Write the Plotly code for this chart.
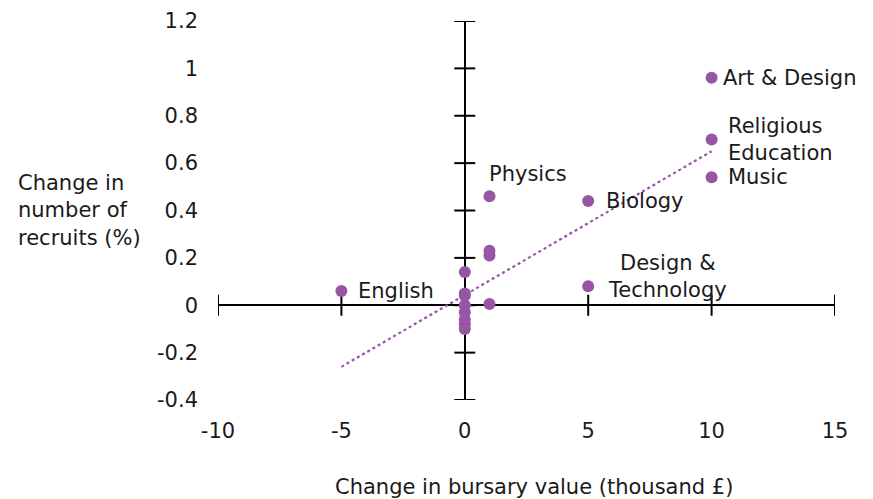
import plotly.graph_objects as go

# Data
bursary_change = [-5, 1, 1, 1, 1, 5, 5, 10, 10, 10, 0, 0, 0, 0, 0, 0, 0, 0]
recruit_change = [0.06, 0.46, 0.23, 0.21, 0.005, 0.44, 0.08, 0.96, 0.70, 0.54,
                  0.14, 0.05, 0.04, 0.0, -0.03, -0.06, -0.08, -0.10]
trend_x = [-5, 10]
trend_y = [-0.26, 0.65]
x_ticks = [-10, -5, 0, 5, 10, 15]
x_tick_text = ["-10", "-5", "0", "5", "10", "15"]
y_ticks = [-0.4, -0.2, 0, 0.2, 0.4, 0.6, 0.8, 1, 1.2]
y_tick_text = ["-0.4", "-0.2", "0", "0.2", "0.4", "0.6", "0.8", "1", "1.2"]

labels = ["English", "Physics", "Biology", "Design &<br>Technology", "Art & Design",
          "Religious<br>Education", "Music"]
label_x = [-5, 1, 5, 5, 10, 10, 10]
label_y = [0.06, 0.46, 0.44, 0.08, 0.96, 0.70, 0.54]

purple = "#9656A3"
font = "DejaVu Sans"
fs = 21
txt = "#1a1a1a"

fig = go.Figure()
# trend line
fig.add_trace(go.Scatter(x=trend_x, y=trend_y, mode="lines",
                         line=dict(color=purple, width=2.2, dash="dot"),
                         hoverinfo="skip", showlegend=False))
# tick marks crossing the axes
fig.add_trace(go.Scatter(x=x_ticks, y=[0] * len(x_ticks), mode="markers",
                         marker=dict(symbol="line-ns", size=15,
                                     line=dict(color="black", width=2)),
                         hoverinfo="skip", showlegend=False))
fig.add_trace(go.Scatter(x=[0] * len(y_ticks), y=y_ticks, mode="markers",
                         marker=dict(symbol="line-ew", size=15,
                                     line=dict(color="black", width=2)),
                         hoverinfo="skip", showlegend=False))
# points
fig.add_trace(go.Scatter(x=bursary_change, y=recruit_change, mode="markers",
                         marker=dict(color=purple, size=12),
                         showlegend=False))

shifts = [(15, 0, "left"), (-2, 22, "left"), (16, 0, "left"), (79, 10, "center"),
          (9, 0, "left"), (14, 0, "left"), (14, 0, "left")]
for t, x, y, (dx, dy, anc) in zip(labels, label_x, label_y, shifts):
    fig.add_annotation(x=x, y=y, text=t, showarrow=False, xanchor=anc, yanchor="middle",
                       xshift=dx, yshift=dy, align=anc,
                       font=dict(family=font, size=fs, color=txt))

fig.add_annotation(xref="paper", yref="paper", x=-0.327, y=0.5, xanchor="left",
                   yanchor="middle", align="left", showarrow=False,
                   text="Change in<br>number of<br>recruits (%)",
                   font=dict(family=font, size=fs, color=txt))
fig.add_annotation(xref="paper", yref="paper", x=0.5127, y=-0.23, xanchor="center",
                   yanchor="middle", showarrow=False,
                   text="Change in bursary value (thousand £)",
                   font=dict(family=font, size=fs, color=txt))

fig.update_xaxes(range=[-10, 15], tickvals=x_ticks, ticktext=x_tick_text,
                 showgrid=False, showline=False, automargin=False,
                 zeroline=True, zerolinecolor="black", zerolinewidth=2,
                 ticks="", ticklabelstandoff=16,
                 tickfont=dict(family=font, size=fs, color=txt))
fig.update_yaxes(range=[-0.4, 1.2], tickvals=y_ticks, ticktext=y_tick_text,
                 showgrid=False, showline=False, automargin=False,
                 zeroline=True, zerolinecolor="black", zerolinewidth=2,
                 ticks="", ticklabelstandoff=19,
                 tickfont=dict(family=font, size=fs, color=txt))

fig.update_layout(width=865, height=491, margin=dict(l=210, r=38, t=13, b=99),
                  plot_bgcolor="white", paper_bgcolor="white",
                  font=dict(family=font, size=fs, color=txt))

fig.write_html("out.html")
